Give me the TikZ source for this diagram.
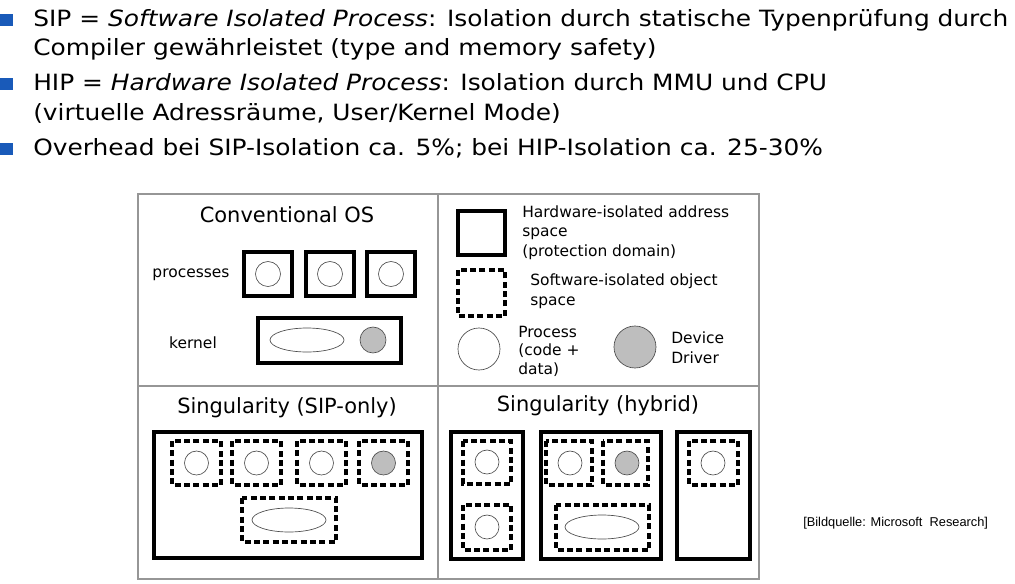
\documentclass[tikz,border=0pt]{standalone}
\usepackage{fontspec}
\setmainfont{DejaVu Sans}
\newfontfamily\pointfont{DejaVu Sans}[FakeStretch=1.11]
\newfontfamily\sourcefont{Liberation Sans}
\usepackage{xcolor}
\usetikzlibrary{shapes,positioning}

\definecolor{bulletblue}{RGB}{25,90,185}
\definecolor{framegray}{RGB}{150,150,150}
\definecolor{drivergray}{RGB}{190,190,190}

\begin{document}
\begin{tikzpicture}[x=0.75pt, y=-0.75pt]
    \tikzstyle{frame} = [draw=framegray, line width=1.1pt]
    \tikzstyle{hwbox} = [draw, line width=3pt]
    \tikzstyle{swbox} = [draw, line width=2.4pt, dash pattern=on 4.6pt off 2.4pt]
    \tikzstyle{proc} = [draw=black!70, line width=0.5pt, fill=white]
    \tikzstyle{driver} = [draw=black!70, line width=0.5pt, fill=drivergray]
    \tikzstyle{bullet} = [fill=bulletblue]
    \tikzstyle{point} = [anchor=base west, inner sep=0pt, font=\pointfont\fontsize{16.8}{20}\selectfont]
    \tikzstyle{paneltitle} = [anchor=base, inner sep=0pt, font=\fontsize{15.7}{19}\selectfont]
    \tikzstyle{smalltext} = [anchor=base west, inner sep=0pt, align=left, font=\fontsize{11.6}{14.6}\selectfont]

    \useasboundingbox (0,0) rectangle (1015,583);

    % bullet points
    \fill[bullet] (0,13.5) rectangle (12.5,26);
    \node[point] (sip) at (33,26) {SIP = \textit{Software Isolated Process}: Isolation durch statische Typenprüfung durch};
    \node[point] (sip2) at (33,55) {Compiler gewährleistet (type and memory safety)};
    \fill[bullet] (0,77.5) rectangle (12.5,90);
    \node[point] (hip) at (33,90) {HIP = \textit{Hardware Isolated Process}: Isolation durch MMU und CPU};
    \node[point] (hip2) at (33,120) {(virtuelle Adressräume, User/Kernel Mode)};
    \fill[bullet] (0,142.5) rectangle (12.5,155);
    \node[point] (overhead) at (33,155) {Overhead bei SIP-Isolation ca. 5\%; bei HIP-Isolation ca. 25-30\%};

    % frame of the figure
    \draw[frame] (138,194) rectangle (759,579);
    \draw[frame] (438,194) -- (438,579);
    \draw[frame] (138,386) -- (759,386);

    % conventional OS
    \node[paneltitle] (conv) at (287,222) {Conventional OS};
    \node[smalltext, anchor=base] (processes) at (191,277) {processes};
    \node[smalltext, anchor=base] (kernel) at (193,348) {kernel};
    \foreach \x in {244,306,367} {
        \draw[hwbox] (\x,252) rectangle (\x+48,296);
        \draw[proc] (\x+24,274) circle (12.5);
    }
    \draw[hwbox] (258,318) rectangle (401,363);
    \draw[proc] (307,340) ellipse (37 and 12);
    \draw[driver] (373,340) circle (13);

    % legend (base = last line)
    \draw[hwbox] (458,211) rectangle (505,255);
    \node[smalltext] (hwtext) at (522,256) {Hardware-isolated address\\space\\(protection domain)};
    \draw[swbox] (458,270) rectangle (505,316);
    \node[smalltext] (swtext) at (530,305) {Software-isolated object\\space};
    \draw[proc] (479,349) circle (21);
    \node[smalltext, font=\fontsize{11.6}{13.8}\selectfont] (proctext) at (518,374) {Process\\(code +\\data)};
    \draw[driver] (635,347) circle (21);
    \node[smalltext, font=\fontsize{11.6}{15}\selectfont] (drvtext) at (671,363) {Device\\Driver};

    % Singularity (SIP-only)
    \node[paneltitle] (siponly) at (287,413) {Singularity (SIP-only)};
    \draw[hwbox] (154,432) rectangle (422,558);
    \foreach \x/\s in {172/proc,232/proc,297/proc,359/driver} {
        \draw[swbox] (\x,441) rectangle (\x+49,485);
        \draw[\s] (\x+24.5,463) circle (12);
    }
    \draw[swbox] (242,498) rectangle (336,542);
    \draw[proc] (289,520) ellipse (37 and 12);

    % Singularity (hybrid)
    \node[paneltitle] (hybrid) at (598,411) {Singularity (hybrid)};
    \draw[hwbox] (451,432) rectangle (523,559);
    \draw[swbox] (463,441) rectangle (511,484);
    \draw[proc] (487,462) circle (12);
    \draw[swbox] (463,505) rectangle (511,550);
    \draw[proc] (487,527) circle (12);

    \draw[hwbox] (541,432) rectangle (661,559);
    \draw[swbox] (546,441) rectangle (592,485);
    \draw[proc] (570,463) circle (12);
    \draw[swbox] (603,441) rectangle (648,485);
    \draw[driver] (627,463) circle (12);
    \draw[swbox] (556,505) rectangle (649,550);
    \draw[proc] (602,527) ellipse (37 and 12);

    \draw[hwbox] (677,432) rectangle (750,559);
    \draw[swbox] (689,441) rectangle (738,485);
    \draw[proc] (713,463) circle (12);

    % source
    \node[anchor=base west, inner sep=0pt, font=\sourcefont\fontsize{9.6}{11}\selectfont] (source) at (803,526) {[Bildquelle: Microsoft\ \ Research]};
\end{tikzpicture}
\end{document}
